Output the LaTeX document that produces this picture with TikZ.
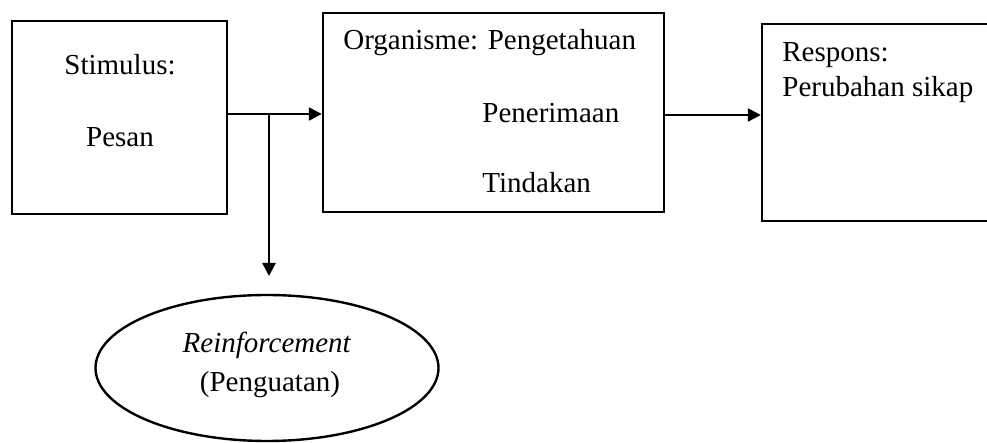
\documentclass[tikz,border=0pt]{standalone}
\usepackage{fontspec}
\setmainfont{Liberation Serif}
\usetikzlibrary{arrows.meta,shapes.geometric}

\tikzset{
	box/.style={draw, line width=1.2pt, inner sep=0pt},
	txt/.style={inner sep=0pt, font=\fontsize{14.5}{17}\selectfont},
	arr/.style={-{Triangle[length=6.5pt,width=6.5pt]}, line width=1.2pt}
}

\begin{document}
\begin{tikzpicture}[x=0.5pt, y=-0.5pt]
	\useasboundingbox (0,0) rectangle (987,443);

	%boxes
	\node[box, minimum width=107.5pt, minimum height=96.5pt] (stim) at (119.5,117.5) {};
	\node[box, minimum width=170.5pt, minimum height=99.5pt] (org) at (493.5,112.5) {};
	\node[box, minimum width=119pt, minimum height=98.5pt] (resp) at (881,122.5) {};
	\node[box, ellipse, minimum width=171.5pt, minimum height=73pt] (reinf) at (267,368) {};

	%texts
	\node[txt, anchor=base] (stimA) at (120,75) {Stimulus:};
	\node[txt, anchor=base] (stimB) at (120,147) {Pesan};
	\node[txt, anchor=base west] (orgA) at (343,50) {Organisme: Pengetahuan};
	\node[txt, anchor=base west] (orgB) at (482,123) {Penerimaan};
	\node[txt, anchor=base west] (orgC) at (482,193) {Tindakan};
	\node[txt, anchor=base west] (respA) at (782,62) {Respons:};
	\node[txt, anchor=base west] (respB) at (782,97) {Perubahan sikap};
	\node[txt, anchor=base] (reinfA) at (267,353) {\textit{Reinforcement}};
	\node[txt, anchor=base] (reinfB) at (270,392) {(Penguatan)};

	%arrows
	\coordinate (split) at (269,114);
	\coordinate (down) at (269,276);
	\draw[arr] (stim.east |- split) -- (org.west |- split);
	\draw[arr] (split) -- (down);
	\draw[arr] (org.east |- 0,115) -- (resp.west |- 0,115);
\end{tikzpicture}
\end{document}
